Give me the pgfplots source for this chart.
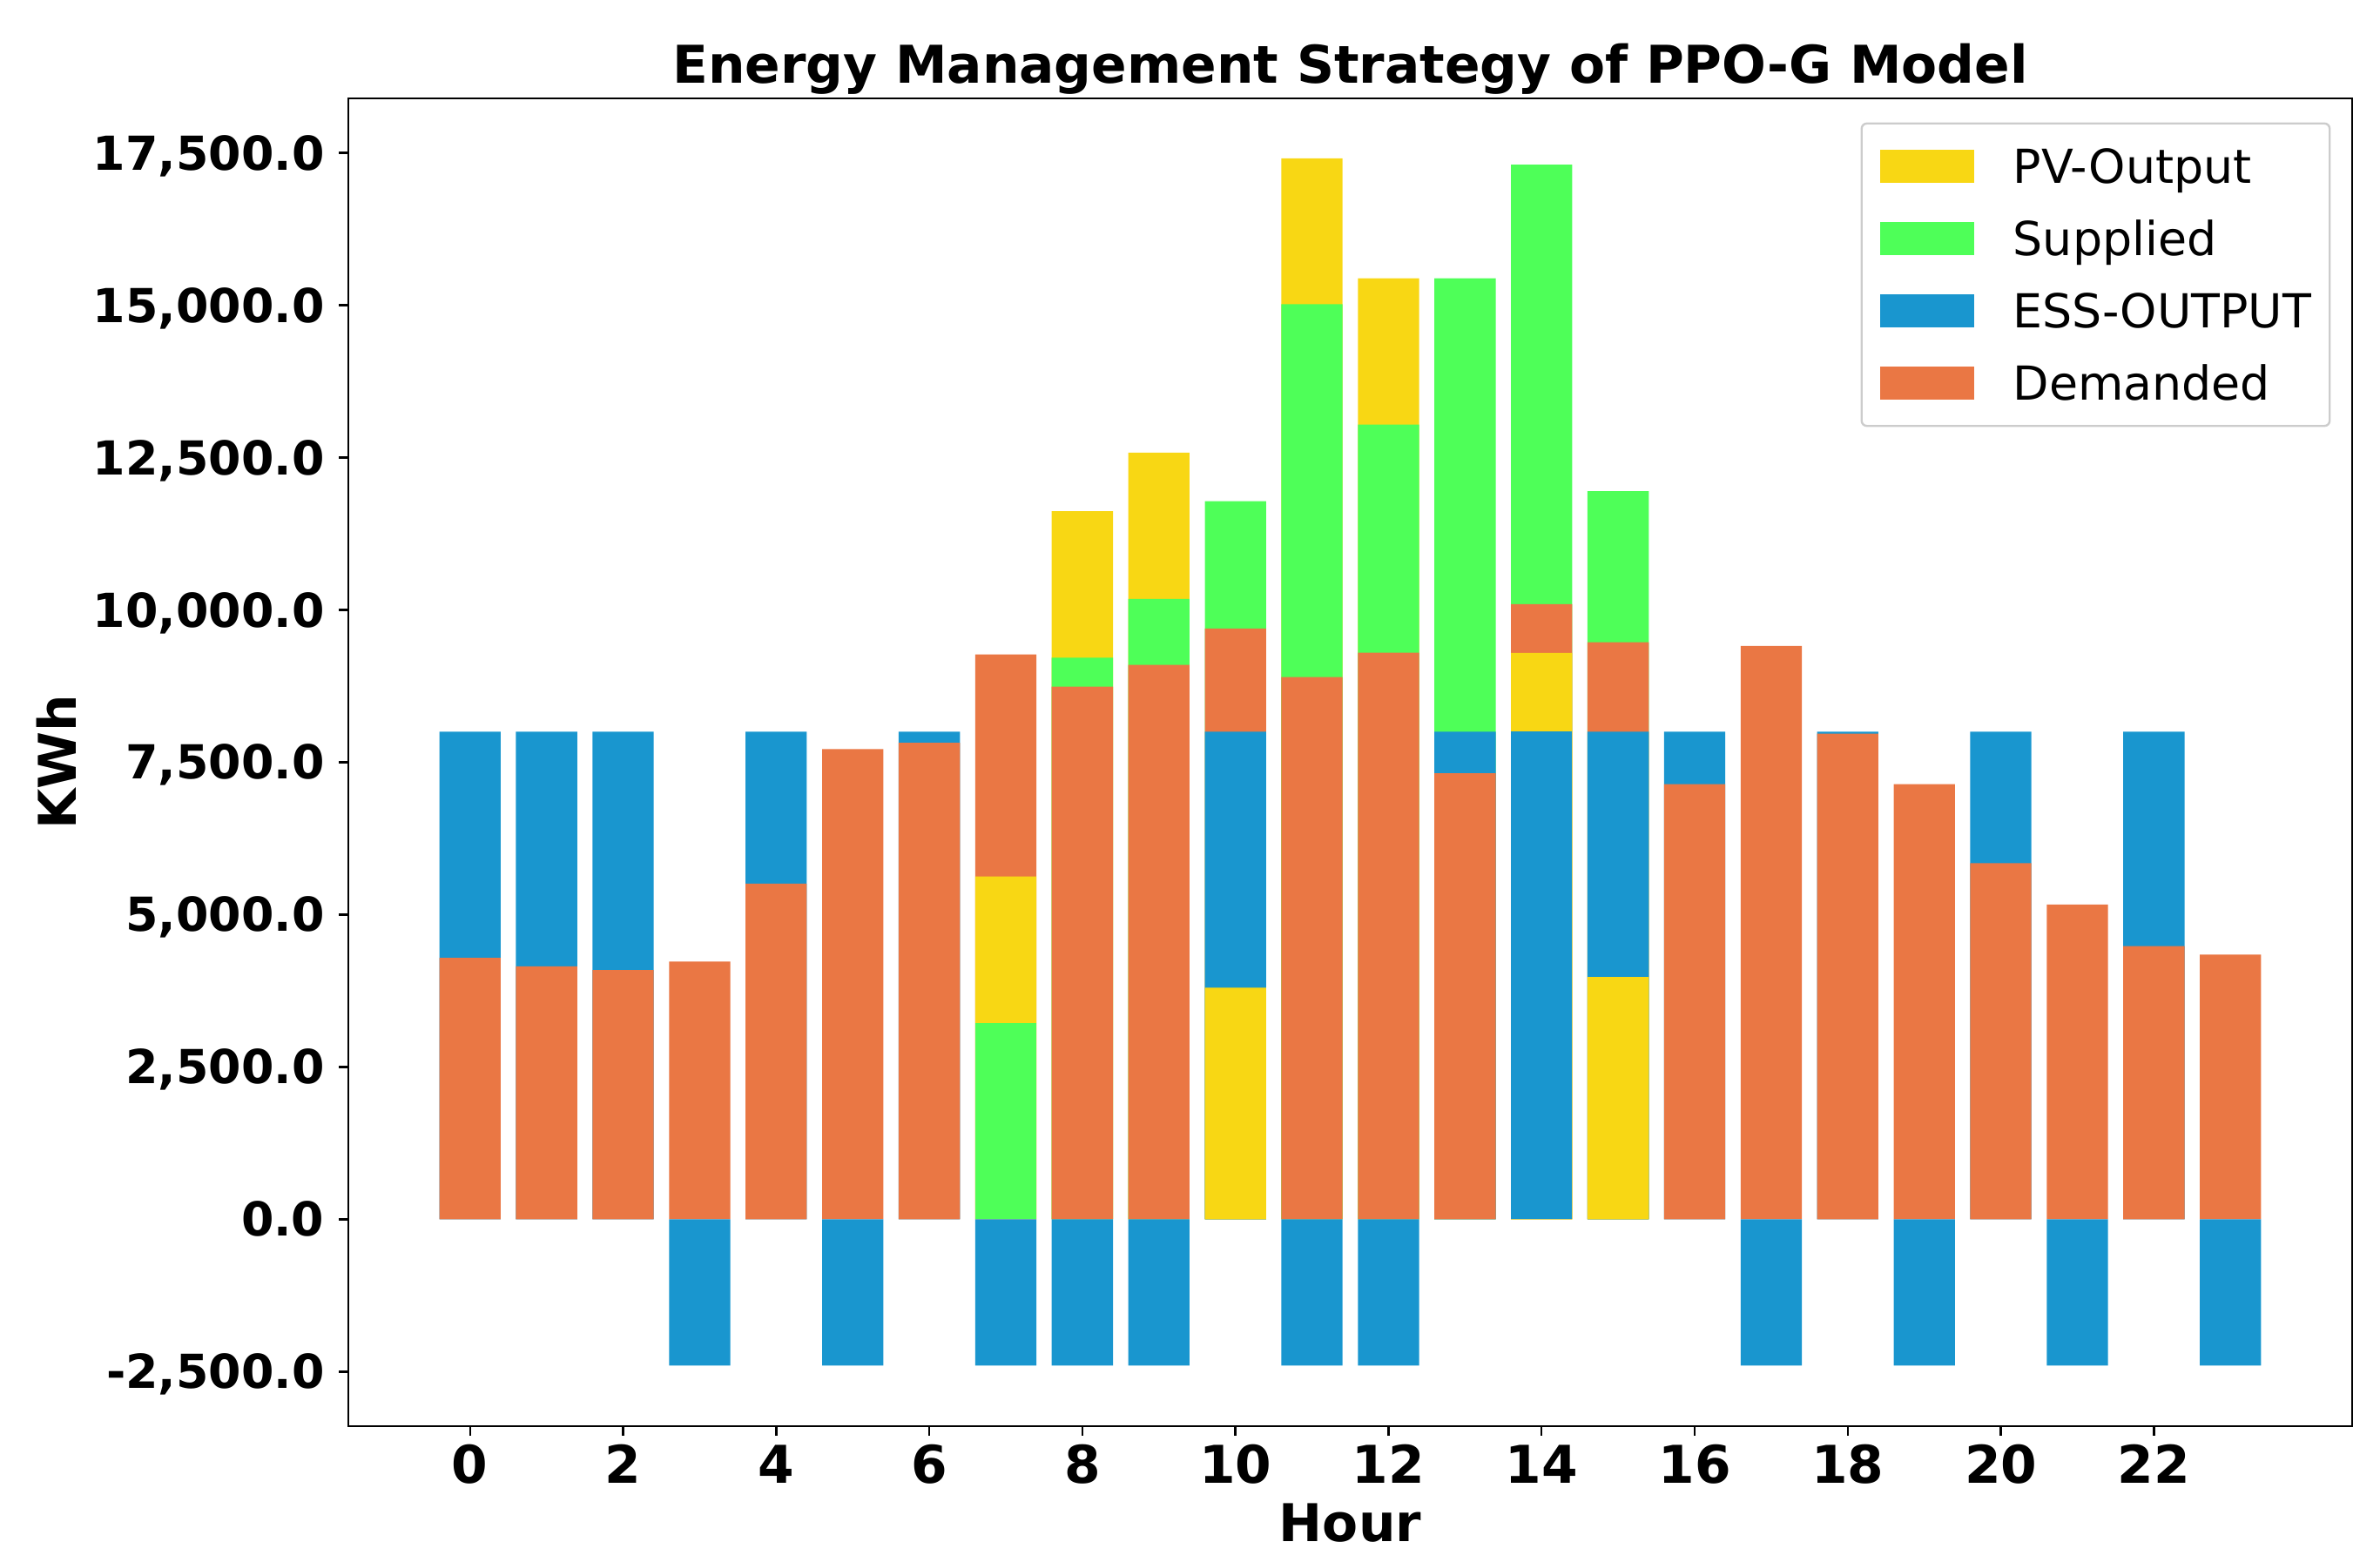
\documentclass[border=0pt]{standalone}
\usepackage{fontspec}
\setmainfont{DejaVu Sans}
\usepackage{pgfplots}
\pgfplotsset{compat=1.18}

\definecolor{pvY}{RGB}{248,215,20}
\definecolor{supG}{RGB}{78,255,88}
\definecolor{essB}{RGB}{25,150,207}
\definecolor{demO}{RGB}{234,119,68}

% bars are overlaid (bar shift 0): later plots cover earlier ones
\pgfplotsset{
  seg/.style={draw=none, bar shift=0pt, forget plot},
  sqlegend/.style={legend image code/.code={\fill[##1, sharp corners] (0bp,-6.3bp) rectangle (36bp,6.3bp);}},
}

\begin{document}
\begin{tikzpicture}
\useasboundingbox (0,0) rectangle (911bp,597.67bp);
\begin{axis}[
  at={(133.33bp,51.67bp)}, anchor=south west,
  scale only axis, width=767bp, height=508.33bp,
  xmin=-1.59, xmax=24.59, ymin=-3393, ymax=18393,
  ybar=0pt, bar width=0.8, bar shift=0pt,
  axis line style={line width=0.8bp},
  tick style={black, line width=0.8bp},
  major tick length=3.5bp, tick align=outside, tick pos=left,
  xtick={0,2,...,22},
  ytick={-2500,0,...,17500},
  scaled y ticks=false,
  /pgf/number format/assume math mode=true,
  xticklabel style={font=\fontsize{20}{24}\selectfont\bfseries, anchor=base, inner sep=0pt, yshift=-18.2bp},
  yticklabel style={font=\fontsize{18}{22}\selectfont\bfseries, anchor=base east, inner sep=0pt, xshift=-5.5bp, yshift=-6.5bp,
    /pgf/number format/fixed, /pgf/number format/fixed zerofill,
    /pgf/number format/precision=1, /pgf/number format/1000 sep={,}},
  title={Energy Management Strategy of PPO-G Model},
  title style={font=\fontsize{20}{24}\selectfont\bfseries, at={(0.5,1)}, anchor=base, inner sep=0pt, yshift=0bp},
  xlabel={Hour},
  xlabel style={font=\fontsize{20}{24}\selectfont\bfseries, at={(0.5,-0.0866)}, anchor=base, inner sep=0pt},
  ylabel={KWh},
  ylabel style={font=\fontsize{20}{24}\selectfont\bfseries, at={(-0.136,0.5)}, anchor=base, inner sep=0pt, rotate=0},
  legend cell align=left,
  legend style={at={(1,1)}, anchor=north east, xshift=-8.2bp, yshift=-9.2bp,
    font=\fontsize{18}{21}\selectfont, draw=black!20, line width=0.8bp, rounded corners=2bp,
    inner xsep=7bp, inner ysep=10bp, row sep=14.6bp, column sep=15bp,
    nodes={inner sep=0pt, text height=13bp, text depth=0pt}},
]
\addlegendimage{sqlegend, fill=pvY, draw=none}
\addlegendimage{sqlegend, fill=supG, draw=none}
\addlegendimage{sqlegend, fill=essB, draw=none}
\addlegendimage{sqlegend, fill=demO, draw=none}

% layer 1: PV-Output on top
\addplot[seg, fill=pvY] coordinates {(8,11620) (9,12580) (11,17410) (12,15440)};
% layer 2: Supplied
\addplot[seg, fill=supG] coordinates {(8,9215) (9,10180) (10,11785) (11,15015) (12,13040) (13,15440) (14,17305) (15,11950)};
% layer 3: ESS-OUTPUT above demand
\addplot[seg, fill=essB] coordinates {(0,8000) (1,8000) (2,8000) (4,8000) (6,8000) (13,8000) (16,8000) (18,8000) (20,8000) (22,8000)};
% layer 4: Demanded
\addplot[seg, fill=demO] coordinates {
  (0,4290) (1,4150) (2,4090) (3,4230) (4,5510) (5,7715) (6,7820) (7,9270)
  (8,8740) (9,9100) (10,9695) (11,8900) (12,9300) (13,7320) (14,10095) (15,9470)
  (16,7140) (17,9410) (18,7970) (19,7140) (20,5845) (21,5165) (22,4485) (23,4345)};
% layer 5: ESS-OUTPUT below demand
\addplot[seg, fill=essB] coordinates {(10,8000) (15,8000)};
% layer 6: PV-Output below
\addplot[seg, fill=pvY] coordinates {(7,5625) (10,3800) (14,9295) (15,3975)};
% layer 7: ESS-OUTPUT at bottom
\addplot[seg, fill=essB] coordinates {(14,8000)};
% layer 8: Supplied at bottom
\addplot[seg, fill=supG] coordinates {(7,3220)};
% ESS charging (negative)
\addplot[seg, fill=essB] coordinates {(3,-2400) (5,-2400) (7,-2400) (8,-2400) (9,-2400) (11,-2400) (12,-2400) (17,-2400) (19,-2400) (21,-2400) (23,-2400)};

\legend{PV-Output,Supplied,ESS-OUTPUT,Demanded}
\end{axis}
\end{tikzpicture}
\end{document}
